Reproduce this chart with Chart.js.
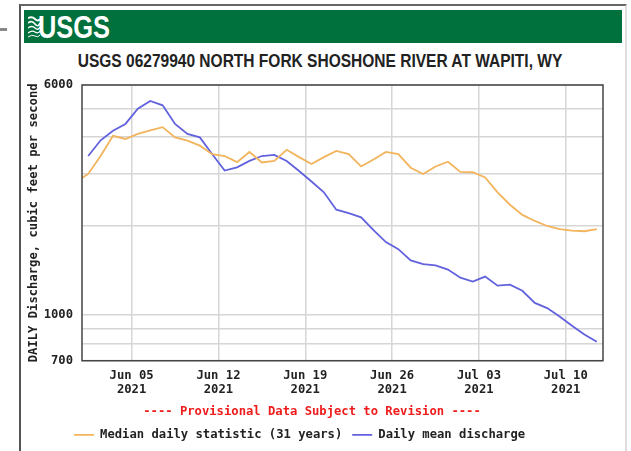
<!DOCTYPE html>
<html>
<head>
<meta charset="utf-8">
<script src="https://cdn.jsdelivr.net/npm/chart.js@4.4.1/dist/chart.umd.min.js"></script>
<style>
  body { margin: 0; background: #fff; width: 631px; height: 451px; position: relative; overflow: hidden; }
  #dash { position: absolute; left: 0; top: 28px; width: 7px; height: 3px; background: #888; }
  #frame { position: absolute; left: 19px; top: 4px; width: 608px; height: 460px; box-sizing: border-box;
           border-top: 2px solid #666; border-left: 2px solid #555; border-right: 2px solid #ddd; }
  #header { position: absolute; left: 24px; top: 10px; width: 598px; height: 33px; background: #00703c; }
  #header svg { position: absolute; left: 4px; top: 6px; }
  #logo { position: absolute; left: 14px; top: 0; color: #fff; line-height: 33px;
          font: bold 31px 'Liberation Sans', sans-serif; transform: scaleX(0.82); transform-origin: left center; }
  #title { position: absolute; left: 320px; top: 50px; white-space: nowrap; color: #222;
           font: bold 18px/22px 'Liberation Sans', sans-serif; transform: translateX(-50%) scaleX(0.862); }
  #chart-box { position: absolute; left: 21px; top: 44px; width: 604px; height: 407px; }
</style>
</head>
<body>
<div id="dash"></div>
<div id="frame"></div>
<div id="header">
  <svg width="12" height="22" viewBox="0 0 12 22">
    <path d="M0 2 Q4 0 7 3 T12 3" stroke="#fff" stroke-width="2" fill="none"/>
    <path d="M0 7 Q4 4 7 8 T12 7" stroke="#fff" stroke-width="1.6" fill="none"/>
    <path d="M0 12 Q4 9 7 12 T12 11" stroke="#fff" stroke-width="1.4" fill="none"/>
    <path d="M0 17 Q4 14 7 16 T12 15" stroke="#fff" stroke-width="1.2" fill="none"/>
    <path d="M0 21 Q4 18 7 20 T12 19" stroke="#fff" stroke-width="1" fill="none"/>
  </svg>
  <div id="logo">USGS</div>
</div>
<div id="title"></div>
<div id="chart-box"><canvas id="flow-chart"></canvas></div>

<script>
// Station and series
const stationTitle = 'USGS 06279940 NORTH FORK SHOSHONE RIVER AT WAPITI, WY';
const yAxisTitle = 'DAILY Discharge, cubic feet per second';
const provisionalNote = '---- Provisional Data Subject to Revision ----';
const seriesNames = ['Median daily statistic (31 years)', 'Daily mean discharge'];

// Day offsets from Jun 01 2021, values are plotted at noon of each day
const medianStartDay = -1;   // May 31
const meanStartDay = 0;      // Jun 01

// Median daily statistic, cfs (May 31 - Jul 12)
const medianFlow = [2820, 3000, 3450, 4040, 3940, 4100, 4210, 4320, 3990, 3890,
                    3740, 3500, 3450, 3290, 3560, 3280, 3320, 3620, 3420, 3240,
                    3420, 3590, 3500, 3180, 3360, 3560, 3500, 3150, 3000, 3180,
                    3300, 3050, 3040, 2920, 2600, 2360, 2180, 2080, 2000, 1950,
                    1930, 1920, 1950];

// Daily mean discharge, cfs (Jun 01 - Jul 12)
const meanFlow = [3450, 3900, 4200, 4430, 4990, 5300, 5120, 4430, 4100, 3990,
                  3500, 3080, 3160, 3320, 3450, 3480, 3320, 3070, 2830, 2600,
                  2270, 2210, 2140, 1935, 1764, 1669, 1529, 1485, 1471, 1424,
                  1337, 1296, 1348, 1256, 1266, 1207, 1098, 1055, 988, 919,
                  859, 811];

// Axes
const dayMin = 0;
const dayMax = 42;
const tickDays = [4, 11, 18, 25, 32, 39];
const tickDates = ['Jun 05', 'Jun 12', 'Jun 19', 'Jun 26', 'Jul 03', 'Jul 10'];
const tickYear = '2021';
const yMin = 700;
const yMax = 6000;
const yGridValues = [700, 800, 900, 1000, 2000, 3000, 4000, 5000, 6000];
const yLabelValues = [700, 1000, 6000];

const monoFont = { family: "'DejaVu Sans Mono', monospace", size: 12.2, weight: 'bold', lineHeight: 1.15 };
const gridColor = '#d6d6d6';

document.getElementById('title').textContent = stationTitle;

function toPoints(values, startDay) {
    return values.map((v, i) => ({ x: startDay + i + 0.5, y: v }));
}

// Border round the plot area
const plotFrame = {
    id: 'plotFrame',
    afterDatasetsDraw(chart) {
        const { ctx, chartArea } = chart;
        ctx.save();
        ctx.strokeStyle = '#444';
        ctx.lineWidth = 1.5;
        ctx.strokeRect(chartArea.left, chartArea.top, chartArea.right - chartArea.left, chartArea.bottom - chartArea.top);
        ctx.restore();
    }
};

// Legend sits left of centre in the original
const legendShift = {
    id: 'legendShift',
    afterLayout(chart) {
        if (chart.legend) chart.legend.left += 43;
    }
};

const ctx = document.getElementById('flow-chart').getContext('2d');
new Chart(ctx, {
    type: 'line',
    data: {
        datasets: [{
            label: seriesNames[0],
            data: toPoints(medianFlow, medianStartDay),
            borderColor: 'rgb(242,180,92)',
            backgroundColor: 'rgb(242,180,92)',
            borderWidth: 1.8,
            pointRadius: 0,
            tension: 0
        }, {
            label: seriesNames[1],
            data: toPoints(meanFlow, meanStartDay),
            borderColor: 'rgb(98,98,222)',
            backgroundColor: 'rgb(98,98,222)',
            borderWidth: 1.8,
            pointRadius: 0,
            tension: 0
        }]
    },
    options: {
        responsive: true,
        maintainAspectRatio: false,
        animation: false,
        layout: { padding: { left: 0, right: 22, top: 41, bottom: 0 } },
        scales: {
            x: {
                type: 'linear',
                min: dayMin,
                max: dayMax,
                border: { display: false },
                grid: { color: gridColor, lineWidth: 1.5, drawTicks: false },
                afterBuildTicks: axis => { axis.ticks = tickDays.map(d => ({ value: d })); },
                ticks: {
                    autoSkip: false,
                    maxRotation: 0,
                    padding: 8,
                    color: '#222',
                    font: monoFont,
                    callback: value => [tickDates[tickDays.indexOf(value)], tickYear]
                }
            },
            y: {
                type: 'logarithmic',
                min: yMin,
                max: yMax,
                border: { display: false },
                grid: { color: gridColor, lineWidth: 1.5, drawTicks: false },
                afterBuildTicks: axis => { axis.ticks = yGridValues.map(v => ({ value: v })); },
                afterFit: scale => { scale.width = 61; },
                ticks: {
                    autoSkip: false,
                    padding: 9,
                    color: '#222',
                    font: monoFont,
                    callback: value => yLabelValues.includes(value) ? String(value) : ''
                },
                title: {
                    display: true,
                    text: yAxisTitle,
                    color: '#222',
                    font: monoFont,
                    padding: { top: 6, bottom: 0 }
                }
            }
        },
        plugins: {
            title: { display: false },
            subtitle: {
                display: true,
                position: 'bottom',
                weight: 500,
                text: provisionalNote,
                color: '#ee1c1c',
                font: monoFont,
                padding: { top: 0, bottom: 0 }
            },
            legend: {
                position: 'bottom',
                align: 'start',
                labels: {
                    boxWidth: 20,
                    boxHeight: 0,
                    padding: 10,
                    color: '#222',
                    font: monoFont
                }
            },
            tooltip: { enabled: false }
        }
    },
    plugins: [plotFrame, legendShift]
});
</script>
</body>
</html>
